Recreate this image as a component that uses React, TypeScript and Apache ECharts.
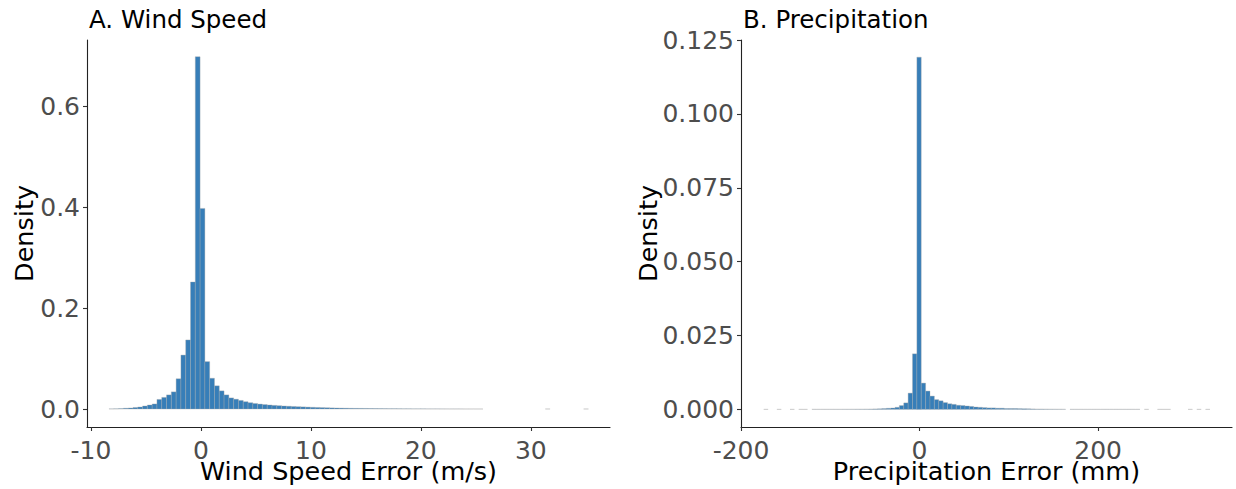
import React, { useEffect, useRef } from "react";
import * as echarts from "echarts";

// ---------- Data ----------
// Panel A: wind speed error histogram (density), 100 bins
const windBinStart = -8.36;
const windBinWidth = 0.436;
const windDensity: (number | null)[] = [
  0.0002, 0.0004, 0.0008, 0.0015, 0.002, 0.003, 0.004, 0.006, 0.008, 0.010,
  0.019, 0.023, 0.028, 0.034, 0.060, 0.107, 0.137, 0.252, 0.699, 0.398,
  0.094, 0.061, 0.046, 0.036, 0.028, 0.022, 0.0195, 0.017, 0.0145, 0.0125,
  0.011, 0.0098, 0.0088, 0.008, 0.0072, 0.0066, 0.006, 0.0055, 0.005, 0.0046,
  0.0042, 0.0038, 0.0034, 0.0031, 0.0028, 0.0025, 0.0022, 0.002, 0.0018, 0.0016,
  0.0014, 0.0013, 0.0012, 0.0011, 0.001, 0.0009, 0.0008, 0.0007, 0.0006, 0.0006,
  0.0005, 0.0004, 0.0004, 0.0003, 0.0003, 0.0003, 0.0002, 0.0002, 0.0002, 0.00015,
  0.00012, 0.0001, 0.0001, 0.00008, 0.00006, 0.00005, 0.00004, 0.00003, null, null,
  null, null, null, null, null, null, null, null, null, null,
  null, 0.00002, null, null, null, null, null, null, null, 0.00002,
];
const windXTicks = [-10, 0, 10, 20, 30];
const windYTicks = [0, 0.2, 0.4, 0.6];

// Panel B: precipitation error histogram (density), 102 bins
const precipBinStart = -174.5;
const precipBinWidth = 4.9;
const precipDensity: (number | null)[] = [
  0.00001, null, null, 0.00001, null, null, 0.00001, null, 0.00001, 0.00001,
  null, 0.00002, 0.00002, 0.00002, 0.00002, 0.00003, 0.00003, 0.00003, 0.00004, 0.00004,
  0.00005, 0.00006, 0.00007, 0.00008, 0.0001, 0.00015, 0.0002, 0.00028, 0.00037, 0.00047,
  0.0007, 0.0013, 0.0022, 0.0055, 0.0188, 0.1192, 0.0089, 0.0062, 0.0045, 0.0033,
  0.0029, 0.0023, 0.0019, 0.0017, 0.0014, 0.0013, 0.00115, 0.001, 0.0008, 0.0007,
  0.0006, 0.0005, 0.0005, 0.0004, 0.0004, 0.0003, 0.0003, 0.0003, 0.00025, 0.0002,
  0.0002, 0.00015, 0.0001, 0.0001, 0.00008, 0.00007, 0.00006, 0.00005, 0.00004, null,
  0.00003, 0.00003, 0.00002, 0.00002, 0.00002, 0.00002, 0.00002, 0.00002, 0.00002, 0.00002,
  0.00002, 0.00002, 0.00002, 0.00002, 0.00002, 0.00002, null, 0.00001, null, null,
  0.00001, 0.00001, 0.00001, null, null, null, null, 0.00001, null, 0.00001,
  null, 0.00001,
];
const precipXTicks = [-200, 0, 200];
const precipYTicks = [0, 0.025, 0.05, 0.075, 0.1, 0.125];

// ---------- Helpers ----------
const FONT = "DejaVu Sans";
const BAR_FILL = "#377EB8";
const BAR_STROKE = "#A8A8A8";
const TICK_SIZE = 25;
const NAME_SIZE = 25.5;

function makeBins(start: number, width: number, vals: (number | null)[]) {
  const out: number[][] = [];
  vals.forEach((v, i) => {
    if (v == null) return;
    out.push([start + i * width, start + (i + 1) * width, v]);
  });
  return out;
}

function renderBar(params: any, api: any) {
  const x0 = api.value(0);
  const x1 = api.value(1);
  const y = api.value(2);
  const p0 = api.coord([x0, y]);
  const p1 = api.coord([x1, 0]);
  return {
    type: "rect",
    shape: { x: p0[0], y: p0[1], width: p1[0] - p0[0], height: p1[1] - p0[1] },
    style: { fill: BAR_FILL, stroke: BAR_STROKE, lineWidth: 0.35 },
  };
}

function xAxisCfg(gridIndex: number, min: number, max: number, ticks: number[], name: string) {
  return {
    type: "value",
    gridIndex,
    min,
    max,
    name,
    nameLocation: "middle",
    nameGap: 35,
    nameMoveOverlap: false,
    nameTextStyle: { fontFamily: FONT, fontSize: NAME_SIZE, color: "#000", lineHeight: 18 },
    axisLine: { show: true, onZero: false, lineStyle: { color: "#222", width: 1.1 } },
    axisTick: { show: true, length: 4, customValues: ticks, lineStyle: { color: "#333", width: 1.1 } },
    axisLabel: {
      customValues: ticks,
      fontFamily: FONT,
      fontSize: TICK_SIZE,
      color: "#4D4D4D",
      margin: 11,
      formatter: (v: number) => String(v),
    },
    splitLine: { show: false },
  };
}

function yAxisCfg(
  gridIndex: number,
  min: number,
  max: number,
  ticks: number[],
  digits: number,
  nameGap: number
) {
  return {
    type: "value",
    gridIndex,
    min,
    max,
    name: "Density",
    nameLocation: "middle",
    nameRotate: 90,
    nameGap,
    nameMoveOverlap: false,
    nameTextStyle: { fontFamily: FONT, fontSize: NAME_SIZE, color: "#000" },
    axisLine: { show: true, onZero: false, lineStyle: { color: "#222", width: 1.1 } },
    axisTick: { show: true, length: 4, customValues: ticks, lineStyle: { color: "#333", width: 1.1 } },
    axisLabel: {
      customValues: ticks,
      fontFamily: FONT,
      fontSize: TICK_SIZE,
      color: "#4D4D4D",
      margin: 7,
      formatter: (v: number) => v.toFixed(digits),
    },
    splitLine: { show: false },
  };
}

export default function App() {
  const ref = useRef<HTMLDivElement>(null);

  useEffect(() => {
    if (!ref.current) return;
    const chart = echarts.init(ref.current, undefined, { renderer: "svg" });
    const option: any = {
      animation: false,
      backgroundColor: "#fff",
      title: [
        {
          text: "A. Wind Speed",
          left: 84,
          top: 2,
          textStyle: { fontFamily: FONT, fontSize: 24.5, fontWeight: "normal", color: "#000" },
        },
        {
          text: "B. Precipitation",
          left: 738,
          top: 2,
          textStyle: { fontFamily: FONT, fontSize: 24.5, fontWeight: "normal", color: "#000" },
        },
      ],
      grid: [
        { left: 87, top: 40, width: 523, height: 387, outerBoundsMode: "none", containLabel: false },
        { left: 741, top: 40, width: 491, height: 387, outerBoundsMode: "none", containLabel: false },
      ],
      xAxis: [
        xAxisCfg(0, -10.36, 37.2, windXTicks, "Wind Speed Error (m/s)"),
        xAxisCfg(1, -200, 350, precipXTicks, "Precipitation Error (mm)"),
      ],
      yAxis: [
        yAxisCfg(0, -0.0357, 0.7321, windYTicks, 1, 50),
        yAxisCfg(1, -0.00596, 0.12501, precipYTicks, 3, 80),
      ],
      series: [
        {
          type: "custom",
          xAxisIndex: 0,
          yAxisIndex: 0,
          renderItem: renderBar,
          encode: { x: [0, 1], y: 2 },
          data: makeBins(windBinStart, windBinWidth, windDensity),
        },
        {
          type: "custom",
          xAxisIndex: 1,
          yAxisIndex: 1,
          renderItem: renderBar,
          encode: { x: [0, 1], y: 2 },
          data: makeBins(precipBinStart, precipBinWidth, precipDensity),
        },
      ],
    };
    chart.setOption(option);
    return () => chart.dispose();
  }, []);

  return (
    <div
      ref={ref}
      style={{ position: "fixed", left: 0, top: 0, width: 1236, height: 489, background: "#fff" }}
    />
  );
}
